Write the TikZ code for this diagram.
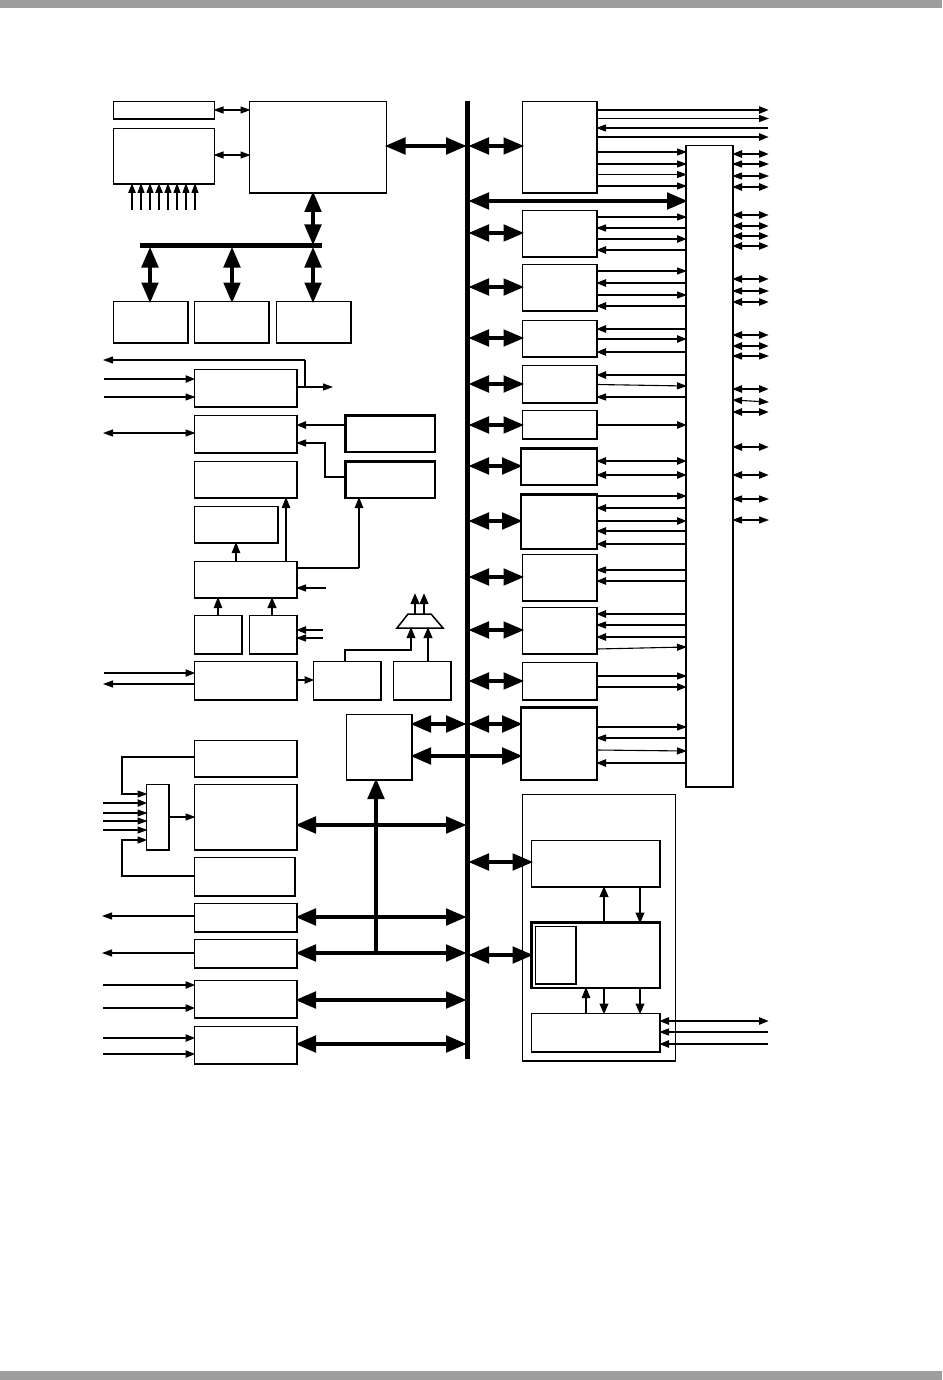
\documentclass[tikz,border=0pt]{standalone}
\usetikzlibrary{arrows.meta}
\tikzset{
  box/.style={draw=black,fill=white,line width=1.5pt,inner sep=0pt,outer sep=0pt},
  bthin/.style={line width=1.1pt},
  bthick/.style={line width=2.1pt},
  th/.style={line width=1.1pt},
  tk/.style={line width=2.4pt},
  ar/.style={shorten >=-1pt,-{Triangle[length=10pt,width=7pt]}},
  al/.style={shorten <=-1pt,{Triangle[length=10pt,width=7pt]}-},
  ab/.style={shorten >=-1pt,shorten <=-1pt,{Triangle[length=10pt,width=7pt]}-{Triangle[length=10pt,width=7pt]}},
  mr/.style={shorten >=-1pt,-{Triangle[length=11pt,width=8.5pt]}},
  bigb/.style={line width=4.8pt,shorten >=-2pt,shorten <=-2pt,{Triangle[length=21pt,width=16pt]}-{Triangle[length=21pt,width=16pt]}},
  bigr/.style={line width=4.8pt,shorten >=-2pt,-{Triangle[length=21pt,width=16pt]}},
  wire/.style={line width=1.3pt},
}
\newcommand{\bx}[6][]{\node[box,#1,minimum width={(#4-#2)*1pt},minimum height={(#5-#3)*1pt}] (#6) at ({(#2+#4)/2},{(#3+#5)/2}) {};}
\newcommand{\hl}[4]{\draw[#1] (#2 |- 0,#4) -- (#3 |- 0,#4);}
\newcommand{\vl}[4]{\draw[#1] (#4,0 |- #2) -- (#4,0 |- #3);}
\begin{document}
\begin{tikzpicture}[x=1pt,y=-1pt]
\useasboundingbox (0,0) rectangle (942,1380);
\fill[white] (0,0) rectangle (942,1380);
\fill[black!38] (0,0) rectangle (942,8);
\fill[black!38] (0,1371) rectangle (942,1380);
\coordinate (lf) at (104,0);
\coordinate (rf) at (768,0);
\node[fill=black,inner sep=0pt,outer sep=0pt,minimum width=5pt,minimum height=958pt] (bus) at (467.5,580) {};
\node[fill=black,inner sep=0pt,outer sep=0pt,minimum width=182pt,minimum height=5pt] (hbar) at (231,246) {};
% outer box first
\bx[bthin]{522.5}{794.5}{675.5}{1061}{outer}
% top left
\bx[bthin]{113.5}{101.5}{214.5}{119}{aa}
\bx{113.5}{128.5}{214.5}{184}{ab}
\bx[bthin]{249.5}{101.5}{386.5}{193}{cpu}
\bx{113.5}{301.5}{188}{343}{ba}
\bx{194.5}{301.5}{269}{343}{bb}
\bx[bthin]{276.5}{301.5}{351}{343}{bc}
% right boxes
\bx{522.5}{101.5}{597}{193}{ra}
\bx{522.5}{210.5}{597}{257}{rb}
\bx[bthin]{522.5}{264.5}{597}{311}{rc}
\bx[bthin]{522.5}{320.5}{597}{357}{rd}
\bx{522.5}{365.5}{597}{403}{re}
\bx[bthin]{522.5}{410.5}{597}{439}{rf1}
\bx[bthick]{521}{448.5}{597}{485}{rg}
\bx[bthick]{521}{494.5}{597}{549}{rh}
\bx{522.5}{554.5}{597}{601}{ri}
\bx{522.5}{607.5}{597}{654}{rj}
\bx[bthin]{522.5}{662.5}{597}{700}{rk}
\bx[bthick]{521}{707.5}{597}{780}{rl}
\bx{686}{145.5}{733}{787}{col}
% left boxes
\bx{194.5}{369.5}{297}{407}{la}
\bx{194.5}{415.5}{297}{453}{lb}
\bx{194.5}{461.5}{297}{498}{lc}
\bx[bthin]{194.5}{506.5}{278}{543}{ld}
\bx{194.5}{561.5}{297}{598}{le}
\bx[bthick]{345.5}{415.5}{435}{452}{lf1}
\bx[bthick]{345.5}{461.5}{435}{498}{lg}
\bx{194.5}{615.5}{242}{654}{lh}
\bx{249.5}{615.5}{297}{654}{li}
\bx{194.5}{661.5}{297}{700}{lj}
\bx{313.5}{661.5}{381}{700}{lk}
\bx{393.5}{661.5}{451}{700}{ll}
\coordinate (trapT) at (420,614);
\coordinate (trapB) at (420,628);
\draw[line width=1.5pt,line join=miter,fill=white] (397,628) -- (408,614) -- (431,614) -- (443,628) -- cycle;
\bx[bthin]{346.5}{714.5}{412}{780}{cpb}
% lower left
\bx{194.5}{740.5}{297}{777}{ma}
\bx[bthin]{194.5}{784.5}{297}{850}{mb}
\bx{194.5}{857.5}{295}{896}{mc}
\bx{194.5}{903.5}{297}{932}{md}
\bx{194.5}{939.5}{297}{968}{me}
\bx{194.5}{980.5}{297}{1018}{mf}
\bx{194.5}{1026.5}{297}{1064}{mg}
\bx{146.5}{784.5}{169}{850}{mux}
% lower right
\bx{531.5}{840.5}{660}{887}{na}
\bx[bthick]{531.5}{922.5}{660}{988}{nb}
\bx[bthin]{535.5}{926.5}{576}{984}{nc}
\bx[bthin]{531.5}{1013.5}{660}{1052}{nd}

% top-left connectors
\hl{th,ab}{aa.east}{cpu.west}{110}
\hl{th,ab}{ab.east}{cpu.west}{155}
\foreach \x/\w in {132/tk,141/th,150/th,159/tk,168/th,177/th,186/th,195/th}
  {\draw[\w,ar] (\x,210) -- (\x,0 |- ab.south);}
\hl{bigb}{cpu.east}{bus.west}{146}
\vl{bigb}{cpu.south}{hbar.north}{313}
\vl{bigb}{hbar.south}{ba.north}{150}
\vl{bigb}{hbar.south}{bb.north}{232}
\vl{bigb}{hbar.south}{bc.north}{313}

% bus to right column
\foreach \n/\y in {ra/146,rb/233,rc/287,rd/338,re/384,rf1/425,rg/466,rh/521,ri/577,rj/630,rk/681,rl/724}
  {\hl{bigb}{bus.east}{\n.west}{\y}}
\hl{bigb}{bus.east}{col.west}{201}
\hl{bigb}{cpb.east}{bus.west}{724}
\hl{bigb}{cpb.east}{rl.west}{756}

% ra outputs
\hl{tk,ar}{ra.east}{rf}{110}
\hl{th,ar}{ra.east}{rf}{118.5}
\hl{th,al}{ra.east}{rf}{128}
\hl{tk,ar}{ra.east}{rf}{137}
\foreach \y in {152,164,174.5,186} {\hl{th,ar}{ra.east}{col.west}{\y}}
% rb
\hl{th,ar}{rb.east}{col.west}{217}
\hl{th,al}{rb.east}{col.west}{228}
\hl{tk,ar}{rb.east}{col.west}{239}
\hl{tk,al}{rb.east}{col.west}{250}
% rc
\hl{th,ar}{rc.east}{col.west}{271}
\hl{tk,al}{rc.east}{col.west}{283}
\hl{th,ar}{rc.east}{col.west}{295}
\hl{tk,al}{rc.east}{col.west}{306}
% rd
\hl{tk,al}{rd.east}{col.west}{329}
\hl{tk,ar}{rd.east}{col.west}{339}
\hl{tk,al}{rd.east}{col.west}{352}
% re
\hl{tk,al}{re.east}{col.west}{375}
\draw[th,ar] (re.east |- 0,384.5) -- (col.west |- 0,386);
\hl{th,al}{re.east}{col.west}{397}
% rf
\hl{tk,ar}{rf1.east}{col.west}{425}
% rg
\hl{tk,ab}{rg.east}{col.west}{461}
\hl{tk,ab}{rg.east}{col.west}{475}
% rh
\hl{th,ar}{rh.east}{col.west}{496}
\hl{tk,al}{rh.east}{col.west}{508}
\hl{tk,ar}{rh.east}{col.west}{521}
\hl{tk,al}{rh.east}{col.west}{531}
\hl{tk,al}{rh.east}{col.west}{544}
% ri
\hl{th,al}{ri.east}{col.west}{570}
\hl{tk,al}{ri.east}{col.west}{581}
% rj
\hl{tk,al}{rj.east}{col.west}{614}
\hl{th,al}{rj.east}{col.west}{625}
\hl{tk,al}{rj.east}{col.west}{637}
\draw[th,ar] (rj.east |- 0,649) -- (col.west |- 0,647);
% rk
\hl{th,ar}{rk.east}{col.west}{676}
\hl{tk,ar}{rk.east}{col.west}{687}
% rl
\hl{th,ar}{rl.east}{col.west}{727}
\hl{th,al}{rl.east}{col.west}{738}
\draw[th,ar] (rl.east |- 0,750) -- (col.west |- 0,751);
\hl{tk,al}{rl.east}{col.west}{763}

% right of column
\foreach \y/\w in {154/tk,164/th,176/th,187/tk,215/tk,226/tk,236/tk,246/tk,279/tk,291/th,302/tk,335/tk,346/tk,356/th,389/tk,412/tk,447/tk,475/tk,499/th,520/th}
  {\hl{\w,ab}{col.east}{rf}{\y}}
\draw[th,ab] (col.east |- 0,400) -- (rf |- 0,402);

% left region
\hl{tk,ar}{lf}{la.west}{379}
\hl{th,ar}{lf}{la.west}{397}
\hl{th,ar}{la.east}{332,0}{387}
\draw[tk] (305,387) -- (305,360);
\draw[th,ar] (305,360) -- (lf |- 0,360);
\hl{th,ab}{lf}{lb.west}{433}
\hl{tk,al}{lb.east}{lf1.west}{425}
\draw[wire,al] (lb.east |- 0,443) -- (325,443) -- (325,477) -- (lg.west |- 0,477);
\vl{th,mr}{le.north}{ld.south}{236}
\vl{th,mr}{le.north}{lc.south}{286}
\draw[tk] (le.east |- 0,568) -- (359,568);
\draw[th,mr] (359,568) -- (359,0 |- lg.south);
\hl{th,al}{le.east}{326,0}{588}
\vl{th,mr}{lh.north}{le.south}{218}
\vl{tk,mr}{li.north}{le.south}{272}
\hl{tk,al}{li.east}{323,0}{630}
\hl{th,al}{li.east}{323,0}{638}
\hl{tk,ar}{lf}{lj.west}{673}
\hl{th,al}{lf}{lj.west}{684}
\hl{tk,ar}{lj.east}{lk.west}{680}
\draw[line width=1.8pt,mr] (345,0 |- lk.north) -- (345,650) -- (411,650) -- (411,0 |- trapB);
\vl{tk,mr}{ll.north}{trapB}{428}
\draw[tk,mr] (415,0 |- trapT) -- (415,594);
\draw[tk,mr] (424,0 |- trapT) -- (424,594);

% lower left connectors
\draw[wire,ar] (ma.west |- 0,757) -- (122,757) -- (122,794) -- (mux.west |- 0,794);
\draw[wire,ar] (mc.west |- 0,876) -- (122,876) -- (122,840) -- (mux.west |- 0,840);
\hl{tk,ar}{103,0}{mux.west}{803}
\foreach \y in {813,821,830} {\hl{th,ar}{103,0}{mux.west}{\y}}
\hl{th,ar}{mux.east}{mb.west}{817}
\foreach \n/\y in {mb/825,md/917,me/953,mf/1000,mg/1044}
  {\hl{bigb}{\n.east}{bus.west}{\y}}
\draw[line width=4.8pt] (376,953) -- (376,900);
\draw[bigr] (376,900) -- (376,0 |- cpb.south);
\hl{th,ar}{md.west}{103,0}{916}
\hl{th,ar}{me.west}{103,0}{953}
\hl{tk,ar}{103,0}{mf.west}{985}
\hl{tk,ar}{103,0}{mf.west}{1008}
\hl{tk,ar}{103,0}{mg.west}{1038}
\hl{tk,ar}{103,0}{mg.west}{1054}

% lower right connectors
\hl{bigb}{bus.east}{na.west}{862}
\hl{bigb}{bus.east}{nb.west}{955}
\vl{tk,mr}{nb.north}{na.south}{604}
\vl{tk,mr}{na.south}{nb.north}{640}
\vl{th,mr}{nd.north}{nb.south}{586}
\vl{tk,mr}{nb.south}{nd.north}{604}
\vl{tk,mr}{nb.south}{nd.north}{640}
\hl{tk,ab}{nd.east}{rf}{1021}
\hl{th,al}{nd.east}{rf}{1032}
\hl{tk,al}{nd.east}{rf}{1044}
\end{tikzpicture}
\end{document}
